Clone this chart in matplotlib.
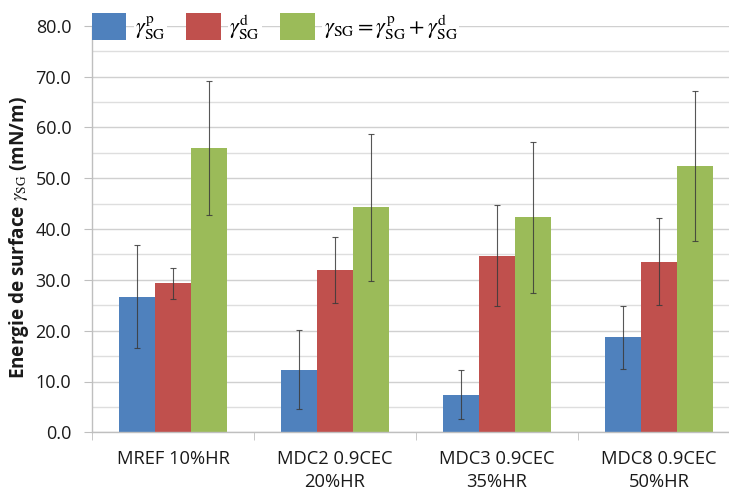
import matplotlib
matplotlib.use("Agg")
import matplotlib.pyplot as plt
import numpy as np
from matplotlib.ticker import MultipleLocator, FixedLocator, NullFormatter

plt.rcParams['font.family'] = ['Open Sans', 'DejaVu Sans']
plt.rcParams['mathtext.fontset'] = 'stix'

categories = ["MREF 10%HR", "MDC2 0.9CEC\n20%HR", "MDC3 0.9CEC\n35%HR", "MDC8 0.9CEC\n50%HR"]
gamma_p = [26.7, 12.3, 7.4, 18.7]
gamma_p_err = [10.1, 7.8, 4.8, 6.2]
gamma_d = [29.3, 32.0, 34.8, 33.6]
gamma_d_err = [3.1, 6.5, 10.0, 8.5]
gamma_sg = [56.0, 44.3, 42.3, 52.4]
gamma_sg_err = [13.2, 14.5, 14.8, 14.7]
series_labels = [r'$\gamma^{\mathrm{p}}_{\mathrm{SG}}$',
                 r'$\gamma^{\mathrm{d}}_{\mathrm{SG}}$',
                 r'$\gamma_{\mathrm{SG}} = \gamma^{\mathrm{p}}_{\mathrm{SG}} + \gamma^{\mathrm{d}}_{\mathrm{SG}}$']
colors = ['#4F81BD', '#C0504D', '#9BBB59']

W, H = 729, 493
fig = plt.figure(figsize=(W / 100, H / 100), dpi=100)
ax = fig.add_axes([92 / W, 1 - 432.3 / H, 648 / W, (432.3 - 25.9) / H])

x = np.arange(len(categories))
bw = 0.222
series = [(gamma_p, gamma_p_err), (gamma_d, gamma_d_err), (gamma_sg, gamma_sg_err)]
handles = []
for i, ((vals, errs), c) in enumerate(zip(series, colors)):
    b = ax.bar(x + (i - 1) * bw, vals, bw, color=c, edgecolor='none', zorder=2,
               label=series_labels[i])
    handles.append(b)
    ax.errorbar(x + (i - 1) * bw, vals, yerr=errs, fmt='none', ecolor='#3a3a3a',
                elinewidth=0.8, capsize=2, capthick=0.8, alpha=0.85, zorder=3)

ax.set_xlim(-0.5, 3.5)
ax.set_ylim(0, 80)
ax.yaxis.set_major_locator(MultipleLocator(10))
ax.yaxis.set_minor_locator(MultipleLocator(5))
ax.yaxis.set_major_formatter(matplotlib.ticker.FormatStrFormatter('%.1f'))
ax.grid(axis='y', which='major', color='#D0D0D0', linewidth=1.0, zorder=0)
ax.grid(axis='y', which='minor', color='#DEDEDE', linewidth=1.0, zorder=0)
ax.set_axisbelow(True)

ax.set_xticks(x)
ax.set_xticklabels(categories, fontsize=13.2, linespacing=1.3, color='#1a1a1a')
ax.xaxis.set_minor_locator(FixedLocator([-0.5, 0.5, 1.5, 2.5, 3.5]))
ax.xaxis.set_minor_formatter(NullFormatter())
ax.tick_params(axis='x', which='major', length=0, pad=13)
ax.tick_params(axis='x', which='minor', length=6, color='#BFBFBF', direction='out')
ax.tick_params(axis='y', which='major', length=6, color='#BFBFBF', direction='out',
               labelsize=13, pad=9, labelcolor='#1a1a1a')
ax.tick_params(axis='y', which='minor', length=0)

for s in ['top', 'right']:
    ax.spines[s].set_visible(False)
for s in ['left', 'bottom']:
    ax.spines[s].set_color('#BFBFBF')
    ax.spines[s].set_linewidth(1.0)

fig.text(19 / W, 1 - 238 / H, r'Energie de surface $\gamma_{\mathrm{SG}}$ (mN/m)',
         rotation=90, ha='center', va='center', fontsize=13.6, fontweight='bold',
         color='#1a1a1a')

leg = fig.legend(handles=handles, labels=series_labels, loc='center left',
                 bbox_to_anchor=(92 / W, 1 - 27 / H), ncol=3, frameon=False,
                 fontsize=16, handlelength=1.55, handleheight=1.5, handletextpad=0.4,
                 columnspacing=0.9, borderaxespad=0, borderpad=0)
for t in leg.get_texts():
    t.set_bbox(dict(facecolor='white', edgecolor='none', pad=1))

fig.savefig('out.png', dpi=100)
